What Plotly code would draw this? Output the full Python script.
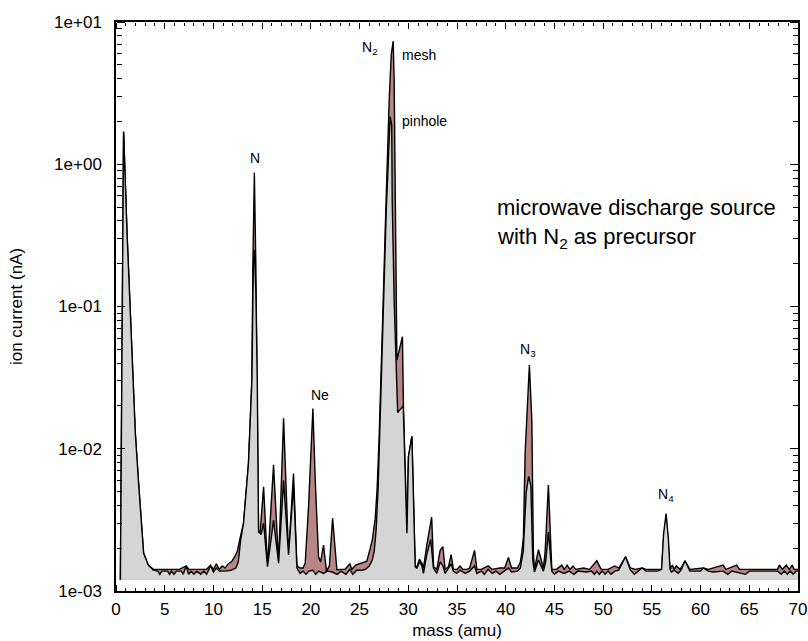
import plotly.graph_objects as go
import math

# ---- data ----
mass_mesh = [0.45, 0.78, 1.13, 1.40, 1.64, 1.98, 2.32, 2.67, 2.83, 3.31, 3.83, 4.5, 5.5, 6.5, 7.2, 7.5,
             8.5, 9.3, 9.7, 10.0, 10.3, 10.6, 10.9, 11.2, 11.5, 11.9, 12.2, 12.45, 12.7, 13.09, 13.6,
             13.95, 14.05, 14.2, 14.35, 14.5, 14.63, 14.8, 15.15, 15.55, 16.17, 16.69, 17.2, 17.71,
             18.22, 18.57, 18.9, 19.2, 19.42, 19.76, 20.21, 20.45, 20.79, 21.0, 21.3, 21.6, 21.9,
             22.23, 22.67, 23.1, 23.5, 24.0, 24.2, 24.6, 25.0, 25.4, 25.75, 26.1, 26.31, 26.6, 26.8,
             27.0, 27.2, 27.43, 27.63, 27.84, 28.04, 28.25, 28.45, 28.55, 28.65, 28.76, 28.83, 29.06,
             29.4, 29.51, 29.86, 30.02, 30.37, 30.71, 30.88, 31.15, 31.4, 31.56, 31.9, 32.4, 32.6,
             32.93, 33.27, 33.55, 33.78, 34.12, 34.4, 34.63, 35.0, 35.3, 35.6, 36.0, 36.3, 36.8, 37.04,
             37.5, 38.2, 38.6, 39.4, 39.9, 40.28, 40.6, 41.2, 41.5, 41.65, 41.82, 41.99, 42.43, 42.68,
             42.84, 42.95, 43.36, 43.87, 44.04, 44.38, 44.73, 45.2, 45.76, 46.0, 46.3, 46.6, 46.9,
             47.2, 48.0, 48.6, 49.35, 49.8, 50.5, 51.2, 51.6, 52.3, 52.8, 53.3, 54.0, 54.4, 55.6,
             56.0, 56.2, 56.46, 56.7, 56.86, 57.1, 57.3, 57.5, 57.9, 58.4, 58.9, 60.3, 60.8, 62.3,
             62.6, 63.7, 64.0, 67.9, 68.1, 68.4, 68.8, 69.1, 69.4, 69.6, 70.0]
current_mesh = [1.2e-3, 1.69, 0.329, 0.111, 0.0376, 0.0129, 5.7e-3, 2.55e-3, 1.85e-3, 1.52e-3, 1.42e-3,
                1.42e-3, 1.42e-3, 1.42e-3, 1.5e-3, 1.42e-3, 1.42e-3, 1.42e-3, 1.52e-3, 1.42e-3, 1.55e-3,
                1.42e-3, 1.5e-3, 1.45e-3, 1.55e-3, 1.62e-3, 1.75e-3, 1.9e-3, 2.3e-3, 3.0e-3, 7.9e-3,
                0.0304, 0.2, 0.87, 0.2, 0.0304, 2.6e-3, 2.6e-3, 5.4e-3, 1.48e-3, 7.7e-3, 1.57e-3, 0.0164,
                1.79e-3, 6.7e-3, 1.5e-3, 1.45e-3, 1.45e-3, 1.57e-3, 3.9e-3, 0.0192, 6.0e-3, 1.74e-3,
                1.6e-3, 2.1e-3, 1.38e-3, 1.5e-3, 3.25e-3, 1.41e-3, 1.42e-3, 1.42e-3, 1.55e-3, 1.42e-3,
                1.52e-3, 1.55e-3, 1.58e-3, 1.62e-3, 2.0e-3, 2.3e-3, 3.2e-3, 5.2e-3, 0.0116, 0.030, 0.111,
                0.344, 1.07, 2.83, 5.86, 7.35, 3.9, 0.56, 0.111, 0.042, 0.049, 0.0613, 0.0187, 2.55e-3,
                8.8e-3, 0.0122, 1.48e-3, 1.48e-3, 1.67e-3, 1.57e-3, 1.45e-3, 2.1e-3, 3.3e-3, 1.48e-3,
                1.42e-3, 1.93e-3, 2.05e-3, 1.42e-3, 1.48e-3, 1.8e-3, 1.42e-3, 1.42e-3, 1.5e-3, 1.42e-3,
                1.42e-3, 1.45e-3, 1.93e-3, 1.42e-3, 1.42e-3, 1.5e-3, 1.42e-3, 1.45e-3, 1.45e-3, 1.72e-3,
                1.45e-3, 1.45e-3, 1.6e-3, 1.86e-3, 2.4e-3, 9.3e-3, 0.0388, 0.0159, 1.86e-3, 1.42e-3,
                1.95e-3, 1.45e-3, 1.86e-3, 5.55e-3, 1.42e-3, 1.42e-3, 1.52e-3, 1.42e-3, 1.52e-3, 1.42e-3,
                1.5e-3, 1.42e-3, 1.45e-3, 1.42e-3, 1.63e-3, 1.42e-3, 1.42e-3, 1.5e-3, 1.45e-3, 1.74e-3,
                1.45e-3, 1.42e-3, 1.45e-3, 1.42e-3, 1.42e-3, 1.42e-3, 2.3e-3, 3.3e-3, 2.1e-3, 1.42e-3,
                1.52e-3, 1.42e-3, 1.5e-3, 1.42e-3, 1.63e-3, 1.42e-3, 1.45e-3, 1.42e-3, 1.52e-3, 1.42e-3,
                1.52e-3, 1.42e-3, 1.42e-3, 1.52e-3, 1.42e-3, 1.52e-3, 1.42e-3, 1.52e-3, 1.42e-3, 1.42e-3]

mass_pinhole = [0.45, 0.78, 1.13, 1.40, 1.64, 1.98, 2.32, 2.67, 2.83, 3.31, 3.83, 4.3, 4.5, 4.7, 5.3, 5.5,
                5.7, 5.95, 6.2, 6.7, 6.9, 7.2, 7.45, 7.7, 8.0, 8.3, 8.7, 9.0, 9.3, 9.7, 10.0, 10.3, 10.6,
                11.2, 11.8, 12.3, 12.55, 12.8, 13.09, 13.6, 13.95, 14.1, 14.2, 14.35, 14.5, 14.63, 14.9,
                15.15, 15.55, 16.17, 16.69, 17.2, 17.71, 18.22, 18.57, 18.9, 19.2, 19.5, 19.8, 20.2, 20.5,
                20.8, 21.3, 21.7, 22.2, 22.7, 23.1, 23.6, 24.0, 24.3, 24.7, 25.2, 25.6, 26.0, 26.3, 26.5,
                26.7, 26.9, 27.1, 27.33, 27.53, 27.74, 27.95, 28.14, 28.3, 28.35, 28.55, 28.76, 28.91,
                29.2, 29.48, 29.86, 30.02, 30.37, 30.71, 30.88, 31.15, 31.4, 31.56, 31.9, 32.3, 32.58,
                32.93, 33.27, 33.55, 33.78, 34.12, 34.4, 34.63, 34.98, 35.3, 35.84, 36.3, 36.8, 37.04,
                37.5, 37.8, 38.2, 38.6, 39.0, 39.4, 39.9, 40.28, 40.6, 41.2, 41.5, 41.8, 42.1, 42.35,
                42.58, 42.78, 42.95, 43.36, 43.87, 44.1, 44.38, 44.73, 45.0, 45.4, 46.0, 46.5, 47.0, 47.4,
                48.3, 48.8, 49.1, 49.35, 49.6, 49.9, 50.2, 50.5, 50.8, 51.2, 51.6, 52.3, 52.8, 53.2,
                53.6, 54.0, 54.4, 55.6, 56.0, 56.2, 56.46, 56.7, 56.86, 57.0, 57.3, 57.7, 58.0, 58.4,
                58.9, 60.0, 60.3, 60.8, 61.3, 62.3, 62.8, 63.2, 64.6, 65.0, 67.9, 68.3, 68.6, 68.9,
                69.2, 69.5, 69.8, 70.0]
current_pinhole = [1.2e-3, 1.69, 0.329, 0.111, 0.0376, 0.0129, 5.7e-3, 2.55e-3, 1.85e-3, 1.52e-3, 1.40e-3,
                   1.38e-3, 1.31e-3, 1.38e-3, 1.38e-3, 1.31e-3, 1.38e-3, 1.31e-3, 1.38e-3, 1.38e-3, 1.31e-3,
                   1.5e-3, 1.31e-3, 1.38e-3, 1.31e-3, 1.38e-3, 1.31e-3, 1.38e-3, 1.31e-3, 1.5e-3, 1.36e-3,
                   1.45e-3, 1.38e-3, 1.38e-3, 1.4e-3, 1.45e-3, 1.6e-3, 2.3e-3, 3.0e-3, 7.9e-3, 0.0304, 0.2,
                   0.25, 0.13, 0.0304, 2.6e-3, 2.5e-3, 3.0e-3, 1.48e-3, 3.15e-3, 1.57e-3, 6.0e-3, 1.79e-3,
                   5.5e-3, 1.45e-3, 1.33e-3, 1.38e-3, 1.31e-3, 1.38e-3, 1.4e-3, 1.31e-3, 1.38e-3, 1.33e-3,
                   1.38e-3, 1.36e-3, 1.31e-3, 1.38e-3, 1.31e-3, 1.42e-3, 1.31e-3, 1.4e-3, 1.4e-3, 1.42e-3,
                   1.5e-3, 1.65e-3, 1.9e-3, 2.7e-3, 5.2e-3, 0.0137, 0.042, 0.153, 0.475, 1.26, 2.16, 1.88,
                   0.56, 0.111, 0.030, 0.018, 0.019, 0.020, 2.55e-3, 8.8e-3, 0.0122, 1.48e-3, 1.45e-3,
                   1.6e-3, 1.5e-3, 1.33e-3, 1.8e-3, 2.3e-3, 1.45e-3, 1.33e-3, 1.6e-3, 1.5e-3, 1.33e-3,
                   1.45e-3, 1.55e-3, 1.38e-3, 1.33e-3, 1.4e-3, 1.33e-3, 1.38e-3, 1.5e-3, 1.33e-3, 1.38e-3,
                   1.31e-3, 1.42e-3, 1.33e-3, 1.38e-3, 1.31e-3, 1.38e-3, 1.45e-3, 1.36e-3, 1.38e-3, 1.45e-3,
                   1.9e-3, 4.9e-3, 6.4e-3, 5.5e-3, 1.64e-3, 1.36e-3, 1.65e-3, 1.38e-3, 1.6e-3, 2.6e-3,
                   1.38e-3, 1.31e-3, 1.38e-3, 1.33e-3, 1.38e-3, 1.31e-3, 1.38e-3, 1.36e-3, 1.38e-3, 1.31e-3,
                   1.38e-3, 1.31e-3, 1.38e-3, 1.31e-3, 1.38e-3, 1.31e-3, 1.38e-3, 1.4e-3, 1.74e-3, 1.4e-3,
                   1.31e-3, 1.38e-3, 1.45e-3, 1.38e-3, 1.38e-3, 1.42e-3, 2.5e-3, 3.5e-3, 2.3e-3, 1.42e-3,
                   1.36e-3, 1.4e-3, 1.33e-3, 1.4e-3, 1.63e-3, 1.38e-3, 1.38e-3, 1.45e-3, 1.38e-3, 1.36e-3,
                   1.38e-3, 1.31e-3, 1.38e-3, 1.31e-3, 1.38e-3, 1.38e-3, 1.31e-3, 1.38e-3, 1.31e-3, 1.38e-3,
                   1.31e-3, 1.38e-3, 1.38e-3]

fill_base = 1.2e-3
x_range = [0, 70]
y_log_range = [-3, 1]
y_label_alias = {"0.001": "1e-03", "0.01": "1e-02", "0.1": "1e-01", "1": "1e+00", "10": "1e+01"}

peak_labels = [
    ("N", 14.3, 1.107, "center"),
    ("Ne", 20.95, 0.0239, "center"),
    ("N<sub>2</sub>", 26.1, 6.56, "center"),
    ("mesh", 29.2, 5.86, "left"),
    ("pinhole", 29.2, 2.01, "left"),
    ("N<sub>3</sub>", 42.3, 0.0494, "center"),
    ("N<sub>4</sub>", 56.46, 4.7e-3, "center"),
]
note_lines = [
    ("microwave discharge source", 38.95, 0.50),
    ("with N<sub>2</sub> as precursor", 38.95, 0.303),
]

FONT = "Liberation Sans, Arial, sans-serif"
MESH_COLOR = "#b98686"
PIN_COLOR = "#d5d5d5"

fig = go.Figure()
fig.add_trace(go.Scatter(x=[mass_mesh[0], mass_mesh[-1]], y=[fill_base, fill_base], mode="lines",
                         line=dict(width=0, color="rgba(0,0,0,0)"), showlegend=False, hoverinfo="skip"))
fig.add_trace(go.Scatter(x=mass_mesh, y=current_mesh, mode="lines", fill="tonexty",
                         fillcolor=MESH_COLOR, line=dict(color="black", width=1.4), showlegend=False))
fig.add_trace(go.Scatter(x=[mass_pinhole[0], mass_pinhole[-1]], y=[fill_base, fill_base], mode="lines",
                         line=dict(width=0, color="rgba(0,0,0,0)"), showlegend=False, hoverinfo="skip"))
fig.add_trace(go.Scatter(x=mass_pinhole, y=current_pinhole, mode="lines", fill="tonexty",
                         fillcolor=PIN_COLOR, line=dict(color="black", width=1.4), showlegend=False))
# empty traces so the tick-only overlay axes get drawn
fig.add_trace(go.Scatter(x=[None], y=[None], xaxis="x2", yaxis="y2", mode="lines",
                         showlegend=False, hoverinfo="skip"))
fig.add_trace(go.Scatter(x=[None], y=[None], xaxis="x3", yaxis="y3", mode="lines",
                         showlegend=False, hoverinfo="skip"))

for text, mx, cy, anchor in peak_labels:
    fig.add_annotation(x=mx, y=math.log10(cy), text=text, showarrow=False, xanchor=anchor,
                       yanchor="middle", font=dict(family=FONT, size=14, color="black"))
for text, mx, cy in note_lines:
    fig.add_annotation(x=mx, y=math.log10(cy), text=text, showarrow=False, xanchor="left",
                       yanchor="middle", font=dict(family=FONT, size=22, color="black"))

# tick-only overlay axes: their "outside" ticks point into the plot area (inward ticks)
x_tick_common = dict(range=x_range, tickmode="linear", tick0=0, dtick=5, ticks="outside", ticklen=6,
                     tickwidth=1.3, tickcolor="black", showticklabels=False, showline=False,
                     showgrid=False, zeroline=False, overlaying="x", anchor="free",
                     minor=dict(ticks="outside", tickmode="linear", tick0=0, dtick=1, ticklen=3,
                                tickwidth=1, tickcolor="black", showgrid=False))
y_tick_common = dict(type="log", range=y_log_range, tickmode="linear", tick0=0, dtick=1,
                     ticks="outside", ticklen=8, tickwidth=1.3, tickcolor="black",
                     showticklabels=False, showline=False, showgrid=False, zeroline=False,
                     overlaying="y", anchor="free",
                     minor=dict(ticks="outside", dtick="D1", ticklen=5, tickwidth=1,
                                tickcolor="black", showgrid=False))

fig.update_layout(
    template="none",
    width=808, height=641,
    margin=dict(l=116, r=10, t=22, b=50, autoexpand=False),
    plot_bgcolor="white", paper_bgcolor="white",
    font=dict(family=FONT, size=17, color="black"),
    showlegend=False,
    xaxis=dict(range=x_range, tickmode="linear", tick0=0, dtick=5, automargin=False, ticks="",
               showline=True, linewidth=1.5, linecolor="black", mirror=True, showgrid=False,
               zeroline=False, ticklabelstandoff=2,
               title=dict(text="mass (amu)", font=dict(family=FONT, size=17), standoff=6),
               tickfont=dict(family=FONT, size=17)),
    yaxis=dict(type="log", range=y_log_range, tickmode="linear", tick0=0, dtick=1,
               labelalias=y_label_alias, automargin=False, ticks="",
               showline=True, linewidth=1.5, linecolor="black", mirror=True, showgrid=False,
               zeroline=False, ticklabelstandoff=9,
               title=dict(text="ion current (nA)", font=dict(family=FONT, size=17), standoff=27),
               tickfont=dict(family=FONT, size=17)),
    xaxis2=dict(side="top", position=0, **x_tick_common),
    xaxis3=dict(side="bottom", position=1, **x_tick_common),
    yaxis2=dict(side="right", position=0, **y_tick_common),
    yaxis3=dict(side="left", position=1, **y_tick_common),
)

fig.write_html("out.html")
